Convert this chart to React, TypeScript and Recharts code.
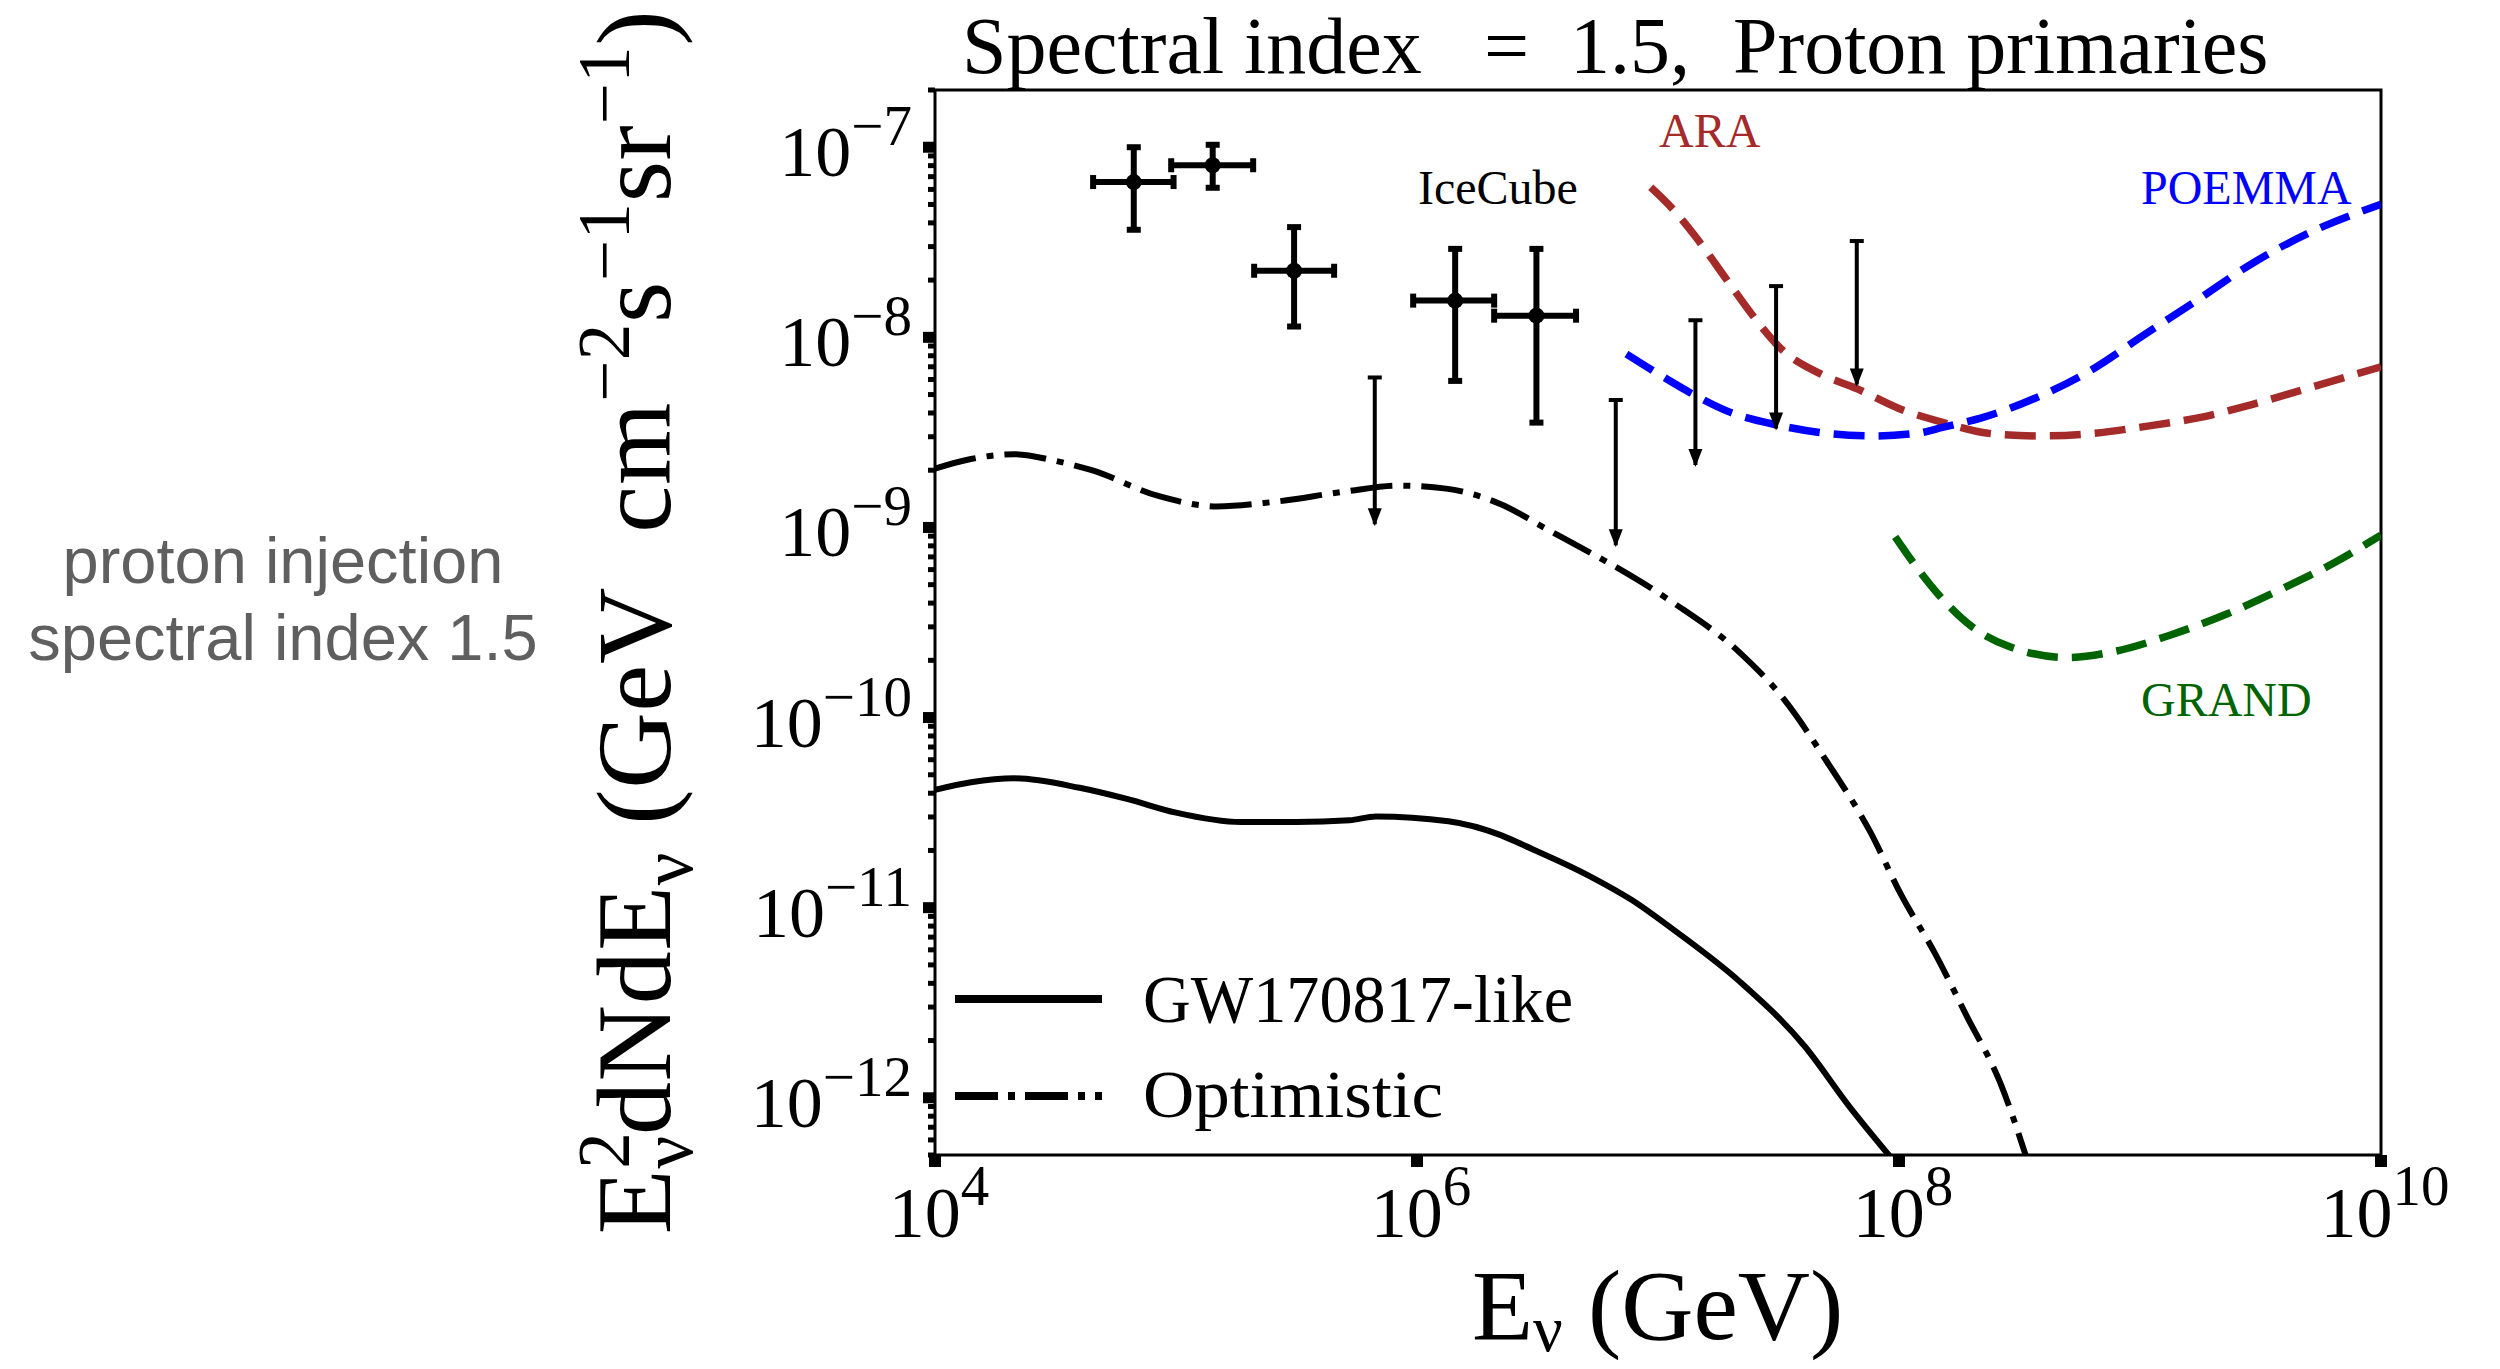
import React from 'react';
import { ComposedChart, Line, Scatter, XAxis, YAxis, ErrorBar, ReferenceArea } from 'recharts';

const W = 2500;
const H = 1369;
const SERIF = '"Liberation Serif", "Times New Roman", serif';
const SANS = '"Liberation Sans", Arial, sans-serif';

// ---------- data (E in GeV, flux in GeV cm^-2 s^-1 sr^-1) ----------
const gwEnergy = [1e4, 1.41e4, 2.14e4, 3.98e4, 6.31e4, 1e5, 1.86e5, 3.16e5, 5.25e5, 6.76e5, 1.35e6, 2.24e6, 2.75e6, 5.13e6, 7.76e6, 1.17e7, 2.19e7, 4.07e7, 6.17e7, 9.33e7];
const gwFlux = [4.17e-11, 4.57e-11, 4.79e-11, 4.27e-11, 3.72e-11, 3.16e-11, 2.82e-11, 2.82e-11, 2.88e-11, 3.02e-11, 2.85e-11, 2.4e-11, 2.14e-11, 1.48e-11, 1.1e-11, 7.59e-12, 4.07e-12, 1.86e-12, 9.12e-13, 4.79e-13];

const optEnergy = [1e4, 1.41e4, 2.14e4, 3.16e4, 4.47e4, 8.51e4, 1.48e5, 2.51e5, 5.13e5, 8.32e5, 1.32e6, 2.24e6, 3.47e6, 5.37e6, 6.31e6, 1.17e7, 2.19e7, 3.31e7, 5.01e7, 7.59e7, 1.02e8, 1.41e8, 1.91e8, 2.63e8, 3.39e8];
const optFlux = [2.04e-9, 2.29e-9, 2.43e-9, 2.24e-9, 2.0e-9, 1.46e-9, 1.29e-9, 1.36e-9, 1.55e-9, 1.66e-9, 1.6e-9, 1.32e-9, 9.77e-10, 7.24e-10, 6.46e-10, 3.98e-10, 2.19e-10, 1.26e-10, 5.89e-11, 2.51e-11, 1.17e-11, 5.75e-12, 2.69e-12, 1.2e-12, 4.79e-13];

const araEnergy = [9.33e6, 1.16e7, 1.43e7, 1.95e7, 2.51e7, 3.24e7, 4.68e7, 6.71e7, 1.01e8, 1.53e8, 2.44e8, 3.88e8, 6.17e8, 1.04e9, 1.74e9, 2.91e9, 4.88e9, 1e10];
const araFlux = [6.15e-8, 4.68e-8, 3.39e-8, 1.97e-8, 1.27e-8, 8.71e-9, 6.46e-9, 5.36e-9, 4.2e-9, 3.56e-9, 3.11e-9, 3.03e-9, 3.11e-9, 3.39e-9, 3.77e-9, 4.43e-9, 5.36e-9, 7.0e-9];

const poemmaEnergy = [7.4e6, 9.93e6, 1.43e7, 1.95e7, 3.09e7, 4.68e7, 7.83e7, 1.19e8, 1.53e8, 2.2e8, 3.69e8, 6.18e8, 1.04e9, 1.74e9, 2.91e9, 4.88e9, 1e10];
const poemmaFlux = [8.17e-9, 6.47e-9, 4.94e-9, 4.08e-9, 3.47e-9, 3.16e-9, 3.03e-9, 3.13e-9, 3.37e-9, 3.77e-9, 4.8e-9, 6.65e-9, 1.03e-8, 1.58e-8, 2.44e-8, 3.48e-8, 5.01e-8];

const grandEnergy = [9.64e7, 1.19e8, 1.46e8, 1.99e8, 2.85e8, 5.01e8, 8.0e8, 1.34e9, 2.25e9, 3.77e9, 6.31e9, 1e10];
const grandFlux = [8.93e-10, 6.12e-10, 4.43e-10, 3.03e-10, 2.37e-10, 2.07e-10, 2.24e-10, 2.72e-10, 3.47e-10, 4.67e-10, 6.46e-10, 9.12e-10];

// IceCube measured points
const icEnergy = [6.68e4, 1.42e5, 3.09e5, 1.44e6, 3.13e6];
const icELow = [4.53e4, 9.55e4, 2.11e5, 9.64e5, 2.09e6];
const icEHigh = [9.77e4, 2.09e5, 4.53e5, 2.09e6, 4.57e6];
const icFlux = [6.56e-8, 8.04e-8, 2.24e-8, 1.56e-8, 1.3e-8];
const icFluxLow = [3.68e-8, 6.12e-8, 1.14e-8, 5.9e-9, 3.56e-9];
const icFluxHigh = [1.0e-7, 1.03e-7, 3.8e-8, 2.92e-8, 2.92e-8];

// IceCube upper limits
const ulEnergy = [6.68e5, 6.68e6, 1.43e7, 3.09e7, 6.68e7];
const ulFlux = [6.15e-9, 4.68e-9, 1.23e-8, 1.86e-8, 3.21e-8];
const ulArrowTip = [1.04e-9, 8.05e-10, 2.13e-9, 3.31e-9, 5.65e-9];

// ticks
const xMajorTicks = [1e4, 1e6, 1e8, 1e10];
const xTickExponents = ['4', '6', '8', '10'];
const yMajorTicks = [1e-12, 1e-11, 1e-10, 1e-9, 1e-8, 1e-7];
const yTickExponents = ['\u221212', '\u221211', '\u221210', '\u22129', '\u22128', '\u22127'];
const yMinorTicks = [
  5e-13, 6e-13, 7e-13, 8e-13, 9e-13,
  2e-12, 3e-12, 4e-12, 5e-12, 6e-12, 7e-12, 8e-12, 9e-12,
  2e-11, 3e-11, 4e-11, 5e-11, 6e-11, 7e-11, 8e-11, 9e-11,
  2e-10, 3e-10, 4e-10, 5e-10, 6e-10, 7e-10, 8e-10, 9e-10,
  2e-9, 3e-9, 4e-9, 5e-9, 6e-9, 7e-9, 8e-9, 9e-9,
  2e-8, 3e-8, 4e-8, 5e-8, 6e-8, 7e-8, 8e-8, 9e-8,
  2e-7,
];

const toPts = (xs: number[], ys: number[]) => xs.map((x, i) => ({ x, y: ys[i] }));

const findIdx = (arr: number[], v: number) => arr.findIndex((t) => Math.abs(t - v) / t < 1e-6);

const YTick = (props: any) => {
  const { x, y, payload } = props;
  const idx = findIdx(yMajorTicks, payload.value);
  if (idx < 0) {
    return <line x1={x} x2={x - 7} y1={y} y2={y} stroke="#000" strokeWidth={5} />;
  }
  return (
    <g>
      <line x1={x} x2={x - 12} y1={y} y2={y} stroke="#000" strokeWidth={11} />
      <text x={x - 23} y={y + 29} textAnchor="end" fontFamily={SERIF} fontSize={72} fill="#000">
        <tspan>10</tspan>
        <tspan fontSize={57} dy={-31}>{yTickExponents[idx]}</tspan>
      </text>
    </g>
  );
};

const XTick = (props: any) => {
  const { x, y, payload } = props;
  const idx = findIdx(xMajorTicks, payload.value);
  if (idx < 0) return null;
  return (
    <g>
      <line x1={x} x2={x} y1={y} y2={y + 12} stroke="#000" strokeWidth={12} />
      <text x={x + 4} y={y + 82} textAnchor="middle" fontFamily={SERIF} fontSize={72} fill="#000">
        <tspan>10</tspan>
        <tspan fontSize={57} dy={-32}>{xTickExponents[idx]}</tspan>
      </text>
    </g>
  );
};

const dotShape = (p: any) => <circle cx={p.cx} cy={p.cy} r={8} fill="#000" />;
const capShape = (p: any) => (
  <line x1={p.cx - 7} x2={p.cx + 7} y1={p.cy} y2={p.cy} stroke="#000" strokeWidth={4} />
);
const arrowShape = (p: any) => (
  <path d={`M${p.cx - 7},${p.cy - 16} L${p.cx + 7},${p.cy - 16} L${p.cx},${p.cy + 2} Z`} fill="#000" />
);

export default function App() {
  const gw = toPts(gwEnergy, gwFlux);
  const opt = toPts(optEnergy, optFlux);
  const ara = toPts(araEnergy, araFlux);
  const poemma = toPts(poemmaEnergy, poemmaFlux);
  const grand = toPts(grandEnergy, grandFlux);
  const icData = icEnergy.map((x, i) => ({
    x,
    y: icFlux[i],
    ey: [icFlux[i] - icFluxLow[i], icFluxHigh[i] - icFlux[i]],
    ex: [x - icELow[i], icEHigh[i] - x],
  }));
  const ulTop = ulEnergy.map((x, i) => ({ x, y: ulFlux[i], ey: [ulFlux[i] - ulArrowTip[i], 0] }));
  const ulTip = ulEnergy.map((x, i) => ({ x, y: ulArrowTip[i] }));

  return (
    <div style={{ position: 'absolute', left: 0, top: 0, width: W, height: H, background: '#fff', overflow: 'hidden' }}>
      <ComposedChart width={W} height={H} margin={{ top: 90, right: 119, bottom: 94, left: 735 }}>
        <XAxis
          dataKey="x"
          type="number"
          scale="log"
          domain={[1e4, 1e10]}
          allowDataOverflow
          ticks={xMajorTicks}
          interval={0}
          tick={(p: any) => <XTick {...p} />}
          tickLine={false}
          axisLine={false}
          tickSize={0}
          tickMargin={0}
          height={120}
        />
        <YAxis
          type="number"
          scale="log"
          domain={[5e-13, 2e-7]}
          allowDataOverflow
          ticks={[...yMinorTicks, ...yMajorTicks]}
          interval={0}
          tick={(p: any) => <YTick {...p} />}
          tickLine={false}
          axisLine={false}
          tickSize={0}
          tickMargin={0}
          width={200}
        />
        <ReferenceArea x1={1e4} x2={1e10} y1={5e-13} y2={2e-7} fill="none" stroke="#000" strokeWidth={3} ifOverflow="visible" />
        <Line data={gw} dataKey="y" type="monotone" stroke="#000" strokeWidth={6} dot={false} isAnimationActive={false} />
        <Line data={opt} dataKey="y" type="monotone" stroke="#000" strokeWidth={6} strokeDasharray="42 11 7 11" dot={false} isAnimationActive={false} />
        <Line data={ara} dataKey="y" type="monotone" stroke="#a52a2a" strokeWidth={7.5} strokeDasharray="31 14" dot={false} isAnimationActive={false} />
        <Line data={poemma} dataKey="y" type="monotone" stroke="#0000ff" strokeWidth={7.5} strokeDasharray="31 14" dot={false} isAnimationActive={false} />
        <Line data={grand} dataKey="y" type="monotone" stroke="#006400" strokeWidth={7.5} strokeDasharray="31 14" dot={false} isAnimationActive={false} />
        <Scatter data={icData} dataKey="y" shape={dotShape} isAnimationActive={false}>
          <ErrorBar dataKey="ey" direction="y" width={7} strokeWidth={6} stroke="#000" isAnimationActive={false} />
          <ErrorBar dataKey="ex" direction="x" width={7} strokeWidth={6} stroke="#000" isAnimationActive={false} />
        </Scatter>
        <Scatter data={ulTop} dataKey="y" shape={capShape} isAnimationActive={false}>
          <ErrorBar dataKey="ey" direction="y" width={0} strokeWidth={4} stroke="#000" isAnimationActive={false} />
        </Scatter>
        <Scatter data={ulTip} dataKey="y" shape={arrowShape} isAnimationActive={false} />
      </ComposedChart>

      <svg width={W} height={H} style={{ position: 'absolute', left: 0, top: 0, pointerEvents: 'none' }}>
        {/* title */}
        <text y={73} fontFamily={SERIF} fontSize={80} fill="#000">
          <tspan x={962}>Spectral index</tspan>
          <tspan x={1484}>=</tspan>
          <tspan x={1570}>1.5,</tspan>
          <tspan x={1733}>Proton primaries</tspan>
        </text>

        {/* curve annotations */}
        <text x={1418} y={204} fontFamily={SERIF} fontSize={48} fill="#000">IceCube</text>
        <text x={1659} y={147} fontFamily={SERIF} fontSize={48} fill="#a52a2a">ARA</text>
        <text x={2141} y={204} fontFamily={SERIF} fontSize={48} fill="#0000ff">POEMMA</text>
        <text x={2141} y={716} fontFamily={SERIF} fontSize={48} fill="#006400">GRAND</text>

        {/* legend */}
        <line x1={955} x2={1102} y1={999} y2={999} stroke="#000" strokeWidth={8} />
        <line x1={955} x2={1102} y1={1096} y2={1096} stroke="#000" strokeWidth={8} strokeDasharray="43 10 7 10" />
        <text x={1143} y={1022} fontFamily={SERIF} fontSize={68} fill="#000" textLength={430} lengthAdjust="spacingAndGlyphs">GW170817-like</text>
        <text x={1143} y={1117} fontFamily={SERIF} fontSize={68} fill="#000" textLength={300} lengthAdjust="spacingAndGlyphs">Optimistic</text>

        {/* x label */}
        <text x={1472} y={1339} fontFamily={SERIF} fontSize={100} fill="#000">
          <tspan>E</tspan>
          <tspan fontSize={66} dy={12}>{'\u03bd'}</tspan>
          <tspan dy={-12}>{'\u00a0(GeV)'}</tspan>
        </text>

        {/* y label */}
        <text transform="rotate(-90)" x={-622} y={670} textAnchor="middle" fontFamily={SERIF} fontSize={106} letterSpacing={0.6} fill="#000">
          <tspan>E</tspan>
          <tspan fontSize={73} dy={-41}>2</tspan>
          <tspan fontSize={73} dx={-37} dy={63}>{'\u03bd'}</tspan>
          <tspan dy={-22}>dNdE</tspan>
          <tspan fontSize={73} dy={22}>{'\u03bd'}</tspan>
          <tspan dy={-22}>{'\u00a0(GeV\u00a0\u00a0cm'}</tspan>
          <tspan fontSize={73} dy={-41}>{'\u22122'}</tspan>
          <tspan dy={41}>s</tspan>
          <tspan fontSize={73} dy={-41}>{'\u22121'}</tspan>
          <tspan dy={41}>sr</tspan>
          <tspan fontSize={73} dy={-41}>{'\u22121'}</tspan>
          <tspan dy={41}>)</tspan>
        </text>

        {/* left note */}
        <text x={283} y={583} textAnchor="middle" fontFamily={SANS} fontSize={65} fill="#5f5f5f">proton injection</text>
        <text x={283} y={660} textAnchor="middle" fontFamily={SANS} fontSize={65} fill="#5f5f5f">spectral index 1.5</text>
      </svg>
    </div>
  );
}
